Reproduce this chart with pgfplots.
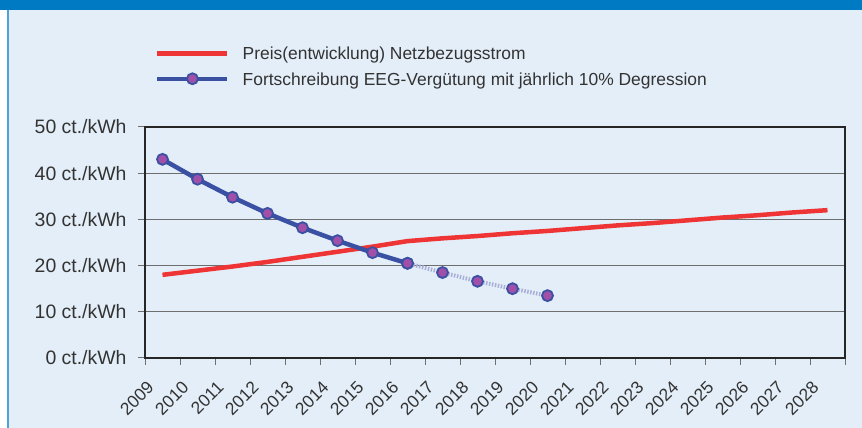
\documentclass[border=0pt]{standalone}
\usepackage{fontspec}
\setmainfont{Liberation Sans}
\usepackage{pgfplots}
\pgfplotsset{compat=1.18}
\definecolor{bgblue}{RGB}{228,238,248}
\definecolor{topblue}{RGB}{0,123,195}
\definecolor{lineblue}{RGB}{58,80,163}
\definecolor{linered}{RGB}{238,52,52}
\definecolor{markfill}{RGB}{160,80,168}
\definecolor{dotblue}{RGB}{168,176,216}
\definecolor{gridgray}{RGB}{110,110,110}
\pgfplotsset{
  redleg/.style={legend image code/.code={\draw[##1] (0bp,0bp) -- (70bp,0bp);}},
  blueleg/.style={legend image code/.code={\draw[mark repeat=2, mark phase=2, ##1] plot coordinates {(0bp,0bp) (35bp,0bp) (70bp,0bp)};}},
}
\begin{document}
\begin{tikzpicture}
\useasboundingbox (0,0) rectangle (862bp,428bp);
\fill[white] (0,0) rectangle (862bp,428bp);
\fill[bgblue] (8bp,0) rectangle (862bp,418bp);
\fill[topblue] (0,418bp) rectangle (862bp,428bp);
\draw[topblue!70, line width=1.2bp] (8bp,0) -- (8bp,418bp);
\begin{axis}[
  at={(145bp,70bp)}, anchor=south west,
  scale only axis, width=700bp, height=231bp,
  xmin=0, xmax=20, ymin=0, ymax=50,
  xtick={0,1,...,20},
  xticklabels={2009,2010,2011,2012,2013,2014,2015,2016,2017,2018,2019,2020,2021,2022,2023,2024,2025,2026,2027,2028,{}},
  ytick={0,10,20,30,40,50},
  yticklabels={0 ct./kWh,10 ct./kWh,20 ct./kWh,30 ct./kWh,40 ct./kWh,50 ct./kWh},
  xtick pos=bottom, ytick pos=left,
  tick align=outside, major tick length=7bp,
  tick style={gridgray, line width=1bp},
  axis line style={black!85, line width=2.5bp},
  ymajorgrids, grid style={gridgray, line width=1bp},
  yticklabel style={font=\fontsize{19.5}{20}\selectfont, text=black!80, xshift=-8bp},
  xticklabel style={font=\fontsize{17.5}{18}\selectfont, text=black!80, xshift=8bp, yshift=-17bp, rotate=45, anchor=east},
  legend style={at={(0.0143,1.264)}, anchor=west, draw=none, fill=none,
    inner sep=0pt, row sep=13bp, column sep=13bp,
    font=\fontsize{17.5}{18}\selectfont,
    nodes={inner sep=0pt, text height=12.5bp, text depth=0pt, text=black!80}},
  legend cell align=left,
]
\addplot[linered, line width=4.5bp, redleg]
  coordinates {(0.5,18.0) (1.5,18.9) (2.5,19.8) (3.5,20.8) (4.5,21.9) (5.5,23.0) (6.5,24.1) (7.5,25.3)
  (8.5,25.9) (9.5,26.4) (10.5,27.0) (11.5,27.5) (12.5,28.1) (13.5,28.7) (14.5,29.2) (15.5,29.8)
  (16.5,30.4) (17.5,30.9) (18.5,31.5) (19.5,32.0)};
\addlegendentry{Preis(entwicklung) Netzbezugsstrom}
\addplot[dotblue, line width=4bp, dash pattern=on 1.5bp off 1.5bp, forget plot,
  mark=*, mark size=5.5bp, mark options={solid, fill=markfill, draw=lineblue, line width=1.8bp}]
  coordinates {(7.5,20.5) (8.5,18.5) (9.5,16.6) (10.5,15.0) (11.5,13.5)};
\addplot[lineblue, line width=4.5bp, blueleg,
  mark=*, mark size=5.5bp, mark options={fill=markfill, draw=lineblue, line width=1.8bp}]
  coordinates {(0.5,43.0) (1.5,38.7) (2.5,34.8) (3.5,31.3) (4.5,28.2) (5.5,25.4) (6.5,22.8) (7.5,20.5)};
\addlegendentry{Fortschreibung EEG-Vergütung mit jährlich 10\% Degression}
\end{axis}
\end{tikzpicture}
\end{document}
